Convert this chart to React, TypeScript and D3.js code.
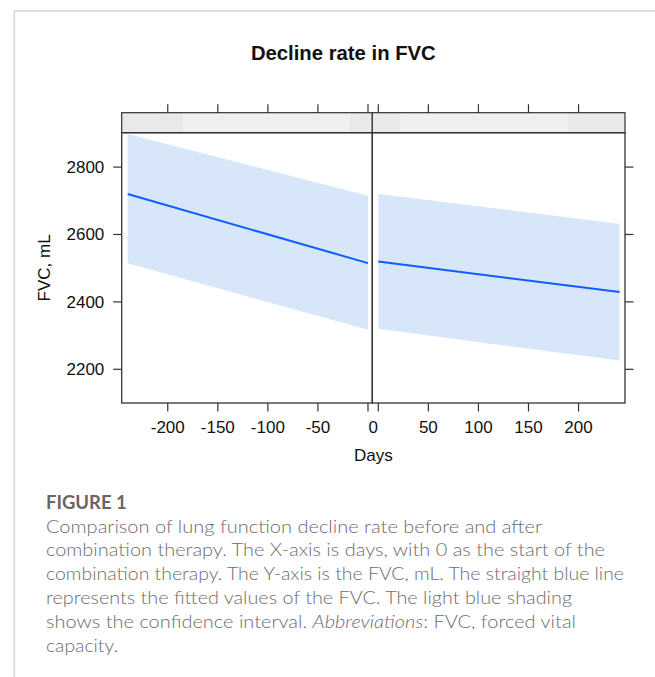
import React from "react";
import * as d3 from "d3";

// fitted FVC before (left panel) and after (right panel) combination therapy
const beforeDays = [-240, 0];
const beforeFit = [2720, 2515];
const beforeUpper = [2898, 2715];
const beforeLower = [2515, 2317];

const afterDays = [0, 241];
const afterFit = [2520, 2429];
const afterUpper = [2720, 2632];
const afterLower = [2320, 2226];

const beforeTicks = [-200, -150, -100, -50, 0];
const afterTicks = [0, 50, 100, 150, 200];
const yTicks = [2200, 2400, 2600, 2800];

const title = "Decline rate in FVC";
const xTitle = "Days";
const yTitle = "FVC, mL";

const captionHead = "FIGURE 1";
const captionLines = [
  {text: "Comparison of lung function decline rate before and after", w: 496},
  {text: "combination therapy. The X-axis is days, with 0 as the start of the", w: 559},
  {text: "combination therapy. The Y-axis is the FVC, mL. The straight blue line", w: 578},
  {text: "represents the fitted values of the FVC. The light blue shading", w: 526},
  {text: "shows the confidence interval. |Abbreviations|: FVC, forced vital", w: 530},
  {text: "capacity.", w: 72},
];

const W = 655;
const H = 677;
const top = 132.7;
const bottom = 403;
const left = 121.7;
const mid = 372.3;
const right = 625;
const stripTop = 112.7;
const tick = 8.5;

const axisFont = "'Liberation Sans', Arial, Helvetica, sans-serif";
const captionFont = "Lato, 'Open Sans', sans-serif";

type Panel = {
  days: number[];
  fit: number[];
  upper: number[];
  lower: number[];
  x: d3.ScaleLinear<number, number>;
  shade: [number, number][];
};

const App = () => {
  const y = d3.scaleLinear().domain([2100, 2902]).range([bottom, top]);
  const xBefore = d3.scaleLinear().domain([-246, 4.3]).range([left, mid]);
  const xAfter = d3.scaleLinear().domain([-6, 246.4]).range([mid, right]);

  const panels: Panel[] = [
    {days: beforeDays, fit: beforeFit, upper: beforeUpper, lower: beforeLower, x: xBefore, shade: [[0, 0.243], [0.911, 1]]},
    {days: afterDays, fit: afterFit, upper: afterUpper, lower: afterLower, x: xAfter, shade: [[0, 0.11], [0.775, 1]]},
  ];

  const zeroLabelX = (xBefore(0) + xAfter(0)) / 2;

  return (
    <svg width={W} height={H} style={{position: "absolute", left: 0, top: 0, background: "#fff"}}>
      {/* page frame */}
      <line x1={14.3} x2={W} y1={11} y2={11} stroke="#d4d4d4" strokeWidth={1.5} />
      <line x1={14.3} x2={14.3} y1={11} y2={H} stroke="#d4d4d4" strokeWidth={1.5} />

      <text x={343.3} y={59.5} textAnchor="middle" fontFamily={axisFont} fontWeight="bold" fontSize={20.3} fill="#111">
        {title}
      </text>

      {panels.map((p, i) => {
        const x0 = p.x.range()[0];
        const x1 = p.x.range()[1];
        const pw = x1 - x0;
        const band = d3
          .area<number>()
          .x((d, j) => p.x(p.days[j]))
          .y0((d, j) => y(p.lower[j]))
          .y1((d, j) => y(p.upper[j]));
        const fitLine = d3
          .line<number>()
          .x((d, j) => p.x(p.days[j]))
          .y((d) => y(d));
        const ticks = i === 0 ? beforeTicks : afterTicks;
        return (
          <g key={i}>
            {/* strip */}
            <rect x={x0} y={stripTop} width={pw} height={top - stripTop} fill="#f0f0f0" />
            {p.shade.map(([a, b], k) => (
              <rect key={k} x={x0 + a * pw} y={stripTop} width={(b - a) * pw} height={top - stripTop} fill="#e9e9e9" />
            ))}
            <rect x={x0} y={stripTop} width={pw} height={top - stripTop} fill="none" stroke="#333" strokeWidth={1.2} />

            <path d={band(p.fit) || ""} fill="#d8e6f9" />
            <path d={fitLine(p.fit) || ""} fill="none" stroke="#0f5fff" strokeWidth={2} />
            <rect x={x0} y={top} width={pw} height={bottom - top} fill="none" stroke="#333" strokeWidth={1.3} />

            {ticks.map((t) => (
              <g key={t}>
                <line x1={p.x(t)} x2={p.x(t)} y1={bottom} y2={bottom + tick} stroke="#333" strokeWidth={1.2} />
                <line x1={p.x(t)} x2={p.x(t)} y1={stripTop} y2={stripTop - tick} stroke="#333" strokeWidth={1.2} />
                {t !== 0 && (
                  <text x={p.x(t)} y={433} textAnchor="middle" fontFamily={axisFont} fontSize={17} fill="#111">
                    {t}
                  </text>
                )}
              </g>
            ))}
          </g>
        );
      })}

      <text x={zeroLabelX} y={433} textAnchor="middle" fontFamily={axisFont} fontSize={17} fill="#111">
        0
      </text>

      {yTicks.map((t) => (
        <g key={t}>
          <line x1={left - tick} x2={left} y1={y(t)} y2={y(t)} stroke="#333" strokeWidth={1.2} />
          <line x1={right} x2={right + tick} y1={y(t)} y2={y(t)} stroke="#333" strokeWidth={1.2} />
          <text x={104.3} y={y(t) + 6} textAnchor="end" fontFamily={axisFont} fontSize={17} fill="#111">
            {t}
          </text>
        </g>
      ))}

      <text x={373.3} y={461} textAnchor="middle" fontFamily={axisFont} fontSize={17} fill="#111">
        {xTitle}
      </text>
      <text
        transform={`translate(49.6, ${(top + bottom) / 2}) rotate(-90)`}
        textAnchor="middle"
        fontFamily={axisFont}
        fontSize={17}
        fill="#111"
      >
        {yTitle}
      </text>

      {/* caption */}
      <text x={46} y={509} fontFamily={captionFont} fontWeight="bold" fontSize={18} fill="#666" textLength={80.7} lengthAdjust="spacingAndGlyphs">
        {captionHead}
      </text>
      {captionLines.map((l, i) => (
        <text
          key={i}
          x={46}
          y={532.5 + i * 23.8}
          fontFamily={captionFont}
          fontWeight={300}
          fontSize={17.6}
          fill="#6c6c6c"
          textLength={l.w}
          lengthAdjust="spacingAndGlyphs"
        >
          {l.text.split("|").map((s, k) => (
            <tspan key={k} fontStyle={k % 2 === 1 ? "italic" : "normal"}>
              {s}
            </tspan>
          ))}
        </text>
      ))}
    </svg>
  );
};

export default App;
